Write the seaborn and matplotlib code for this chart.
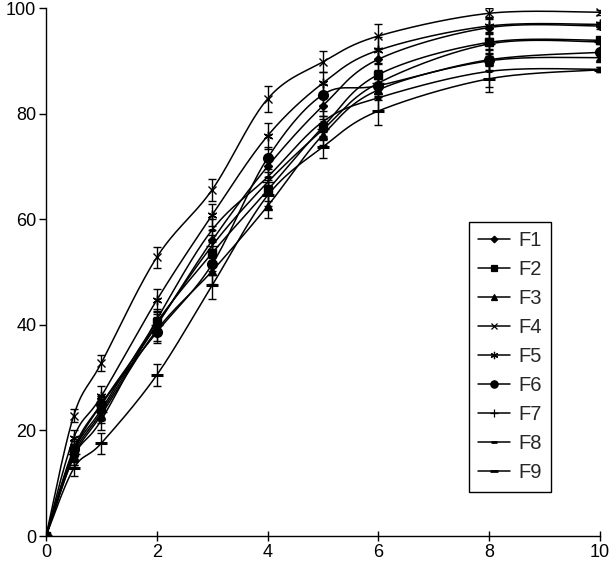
import matplotlib
matplotlib.use("Agg")
import matplotlib.pyplot as plt
import seaborn as sns
import numpy as np
from matplotlib.lines import Line2D

time = [0, 0.5, 1, 2, 3, 4, 5, 6, 8, 10]

F1 = [0, 16.0, 25.0, 40.0, 56.0, 70.0, 81.5, 90.3, 96.3, 96.6]
F2 = [0, 16.0, 24.0, 40.5, 53.6, 65.5, 77.5, 87.4, 93.5, 93.9]
F3 = [0, 15.0, 23.0, 39.0, 50.2, 62.5, 76.0, 84.5, 90.0, 90.6]
F4 = [0, 22.8, 32.8, 52.8, 65.6, 82.8, 89.8, 94.7, 99.0, 99.2]
F5 = [0, 18.6, 26.5, 44.7, 60.8, 75.8, 85.8, 92.0, 96.6, 96.9]
F6 = [0, 16.5, 25.0, 38.6, 51.5, 71.6, 83.6, 85.3, 90.2, 91.6]
F7 = [0, 15.5, 23.5, 40.0, 55.0, 67.0, 77.0, 85.8, 93.2, 93.6]
F8 = [0, 15.0, 22.0, 41.0, 58.0, 68.0, 78.5, 83.0, 88.0, 88.4]
F9 = [0, 12.8, 17.6, 30.5, 47.5, 64.5, 73.7, 80.5, 86.6, 88.3]

E1 = [0, 1.5, 1.5, 1.5, 2.0, 2.0, 2.0, 2.0, 2.0, 0.5]
E2 = [0, 1.5, 2.0, 2.0, 2.0, 2.0, 2.0, 2.0, 2.0, 0.5]
E3 = [0, 1.5, 1.5, 2.0, 2.5, 2.3, 2.0, 2.0, 2.0, 0.5]
E4 = [0, 1.2, 1.5, 2.0, 2.1, 2.4, 2.0, 2.3, 1.0, 0.5]
E5 = [0, 1.5, 2.0, 2.0, 2.0, 2.5, 2.0, 2.5, 1.5, 0.5]
E6 = [0, 1.5, 1.5, 2.0, 2.0, 2.0, 2.0, 2.0, 2.0, 0.5]
E7 = [0, 1.5, 1.5, 2.0, 2.0, 2.0, 2.0, 2.0, 2.0, 0.5]
E8 = [0, 1.5, 2.0, 2.0, 2.0, 2.0, 2.0, 2.5, 3.0, 0.5]
E9 = [0, 1.5, 2.0, 2.0, 2.6, 2.0, 2.1, 2.7, 2.5, 0.5]

names = ["F1", "F2", "F3", "F4", "F5", "F6", "F7", "F8", "F9"]
series = [F1, F2, F3, F4, F5, F6, F7, F8, F9]
errors = [E1, E2, E3, E4, E5, E6, E7, E8, E9]

# marker, size
styles = [
    ("D", 4.5),
    ("s", 6),
    ("^", 6),
    ("x", 6),
    ((6, 2, 0), 7),
    ("o", 7),
    ("+", 8),
    ("_", 5),
    ("_", 8),
]


def smooth(xs, ys, n=30):
    # Excel-like smoothed line: Catmull-Rom bezier in pixel-ish space
    sx, sy = 55.4, 5.28
    p = np.column_stack([np.array(xs) * sx, np.array(ys) * sy])
    pts = [p[0]]
    for i in range(len(p) - 1):
        p0 = p[i - 1] if i > 0 else p[i]
        p3 = p[i + 2] if i + 2 < len(p) else p[i + 1]
        c1 = p[i] + (p[i + 1] - p0) / 6
        c2 = p[i + 1] - (p3 - p[i]) / 6
        t = np.linspace(0, 1, n)[1:, None]
        seg = ((1 - t) ** 3 * p[i] + 3 * (1 - t) ** 2 * t * c1
               + 3 * (1 - t) * t ** 2 * c2 + t ** 3 * p[i + 1])
        pts.extend(seg)
    pts = np.array(pts)
    return pts[:, 0] / sx, pts[:, 1] / sy


sns.set_style("ticks")
plt.rcParams["font.family"] = ["Liberation Sans", "DejaVu Sans"]

fig = plt.figure(figsize=(6.11, 5.64), dpi=100)
ax = fig.add_axes([0.0753, 0.0496, 0.9067, 0.9362])

handles = []
for name, vals, err, (m, ms) in zip(names, series, errors, styles):
    xs, ys = smooth(time, vals)
    sns.lineplot(x=xs, y=ys, sort=False, estimator=None, color="black",
                 linewidth=1.1, ax=ax)
    mew = 2.2 if m == "_" else 1.0
    ax.errorbar(time, vals, yerr=err, fmt="none", ecolor="black",
                elinewidth=1.0, capsize=3, capthick=1.0, zorder=3)
    ax.plot(time, vals, linestyle="none", marker=m, markersize=ms,
            color="black", markeredgewidth=mew, zorder=4)
    handles.append(Line2D([], [], color="black", linewidth=1.1, marker=m,
                          markersize=ms * 0.75, markeredgewidth=mew * 0.9,
                          label=name))

ax.set_xlim(0, 10)
ax.set_ylim(0, 100)
ax.set_xticks([0, 2, 4, 6, 8, 10])
ax.set_yticks([0, 20, 40, 60, 80, 100])
sns.despine(ax=ax)
for s in ["left", "bottom"]:
    ax.spines[s].set_color("black")
    ax.spines[s].set_linewidth(1.0)
ax.tick_params(axis="x", direction="inout", length=7, width=1, colors="black",
               labelsize=13, pad=2)
ax.tick_params(axis="y", direction="out", length=5, width=1, colors="black",
               labelsize=13, pad=2)
for lab in ax.get_xticklabels() + ax.get_yticklabels():
    lab.set_clip_on(False)

leg = ax.legend(handles=handles, loc="upper left",
                bbox_to_anchor=(0.763, 0.595), fontsize=14.5, frameon=True,
                fancybox=False, edgecolor="black", framealpha=1,
                handlelength=1.6, handletextpad=0.4, labelspacing=0.5,
                borderpad=0.45, borderaxespad=0)
leg.get_frame().set_linewidth(1.0)

fig.savefig("out.png", dpi=100)
